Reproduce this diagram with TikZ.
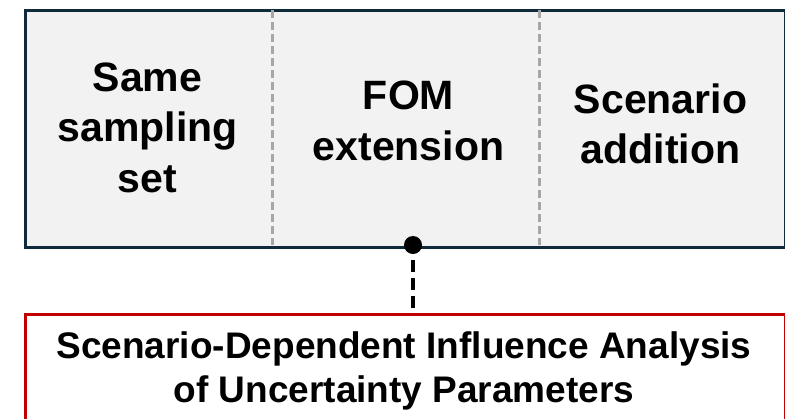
\documentclass[tikz,border=0pt]{standalone}
\usepackage{fontspec}
\setmainfont{Liberation Sans}
\definecolor{navy}{HTML}{0E2A3B}
\definecolor{panel}{HTML}{F2F2F2}
\definecolor{divgray}{HTML}{A6A6A6}
\definecolor{darkred}{HTML}{C00000}
\begin{document}
\begin{tikzpicture}[x=1pt,y=-1pt,
  coltext/.style={font=\bfseries\fontsize{41}{50.5}\selectfont, align=center, text=black, inner sep=0pt},
  bottext/.style={font=\bfseries\fontsize{37}{44}\selectfont, align=center, text=black, inner sep=0pt},
  divider/.style={draw=divgray, line width=3pt, dash pattern=on 8pt off 4pt},
]
\useasboundingbox (0,0) rectangle (785,418);
\clip (0,0) rectangle (785,418);
\node[draw=navy, fill=panel, line width=3pt, minimum width=760pt, minimum height=237pt, anchor=north west, inner sep=0pt] (outer) at (23.5,8.5) {};
\coordinate (d1t) at (272,10);
\coordinate (d1b) at (272,245);
\coordinate (d2t) at (539,10);
\coordinate (d2b) at (539,245);
\draw[divider] (d1t) -- (d1b);
\draw[divider] (d2t) -- (d2b);
\node[coltext] (c1) at (147.5,127.5) {Same\\sampling\\set};
\node[coltext] (c2) at (408.5,121) {FOM\\extension};
\node[coltext] (c3) at (660.5,124) {Scenario\\addition};
\node[draw=darkred, line width=3pt, minimum width=760pt, minimum height=150pt, anchor=north west, inner sep=0pt] (red) at (23.5,312.5) {};
\node[bottext] (bt) at (404,370.5) {Scenario-Dependent Influence Analysis\\of Uncertainty Parameters};
\coordinate (dotc) at (413,245);
\fill[black] (dotc) circle (9pt);
\coordinate (dstart) at (413,260);
\draw[black, line width=4pt, dash pattern=on 12pt off 6pt] (dstart) -- (red.north -| dotc);
\end{tikzpicture}
\end{document}
